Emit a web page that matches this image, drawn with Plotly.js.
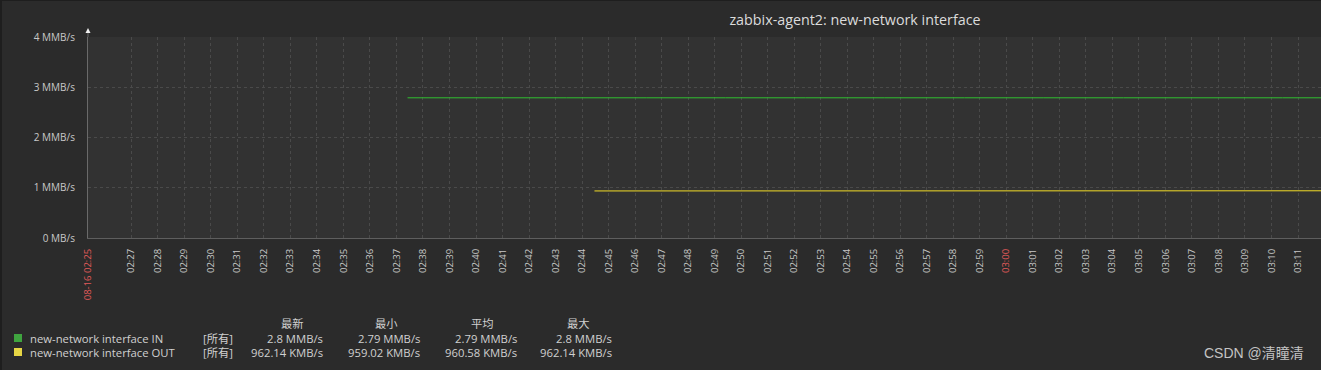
<!DOCTYPE html>
<html>
<head>
<meta charset="utf-8">
<script src="https://cdn.plot.ly/plotly-3.0.1.min.js"></script>
<style>
  html, body { margin: 0; padding: 0; background: #1e1e1e; width: 1321px; height: 370px; overflow: hidden; }
  #chart { position: absolute; left: 2px; top: 1px; width: 1319px; height: 369px; }
</style>
</head>
<body>
<div id="chart"></div>
<script>
// ---------------- data ----------------
const day = '2023-08-16 ';
const chartTitle = 'zabbix-agent2: new-network interface';
const rangeStart = '02:25:22';
const rangeEnd = '03:11:52';

// x-axis tick labels (first one is the start label)
const tickLabels = ['08-16 02:25', '02:27', '02:28', '02:29', '02:30', '02:31', '02:32', '02:33', '02:34', '02:35',
  '02:36', '02:37', '02:38', '02:39', '02:40', '02:41', '02:42', '02:43', '02:44', '02:45', '02:46',
  '02:47', '02:48', '02:49', '02:50', '02:51', '02:52', '02:53', '02:54', '02:55', '02:56', '02:57',
  '02:58', '02:59', '03:00', '03:01', '03:02', '03:03', '03:04', '03:05', '03:06', '03:07', '03:08',
  '03:09', '03:10', '03:11'];
const redTicks = ['08-16 02:25', '03:00'];

// y-axis ticks
const yTickVals = [0, 1, 2, 3, 4];
const yTickText = ['0 MB/s', '1 MMB/s', '2 MMB/s', '3 MMB/s', '4 MMB/s'];

// series: new-network interface IN (MB/s)
const inTimes = ['02:37:25', '02:40:25', '02:43:25', '02:46:25', '02:49:25', '02:52:25', '02:55:25',
  '02:58:25', '03:01:25', '03:04:25', '03:07:25', '03:10:25', '03:12:25'];
const inValues = [2.79, 2.79, 2.79, 2.79, 2.79, 2.79, 2.79, 2.79, 2.79, 2.79, 2.79, 2.79, 2.80];

// series: new-network interface OUT (KB/s)
const outTimes = ['02:44:28', '02:47:28', '02:50:28', '02:53:28', '02:56:28', '02:59:28', '03:02:28',
  '03:05:28', '03:08:28', '03:11:28', '03:12:28'];
const outValuesKB = [959.02, 960.10, 961.35, 959.80, 960.58, 961.90, 960.20, 959.75, 961.02, 962.14, 962.14];

// legend table
const seriesNames = ['new-network interface IN', 'new-network interface OUT'];
const seriesColors = ['#2fbf2f', '#f2dc28'];
const legendSwatch = ['#3fa43f', '#e6d645'];
const funcLabel = '[所有]';
const statHeaders = ['最新', '最小', '平均', '最大'];
const statsIN = ['2.8 MMB/s', '2.79 MMB/s', '2.79 MMB/s', '2.8 MMB/s'];
const statsOUT = ['962.14 KMB/s', '959.02 KMB/s', '960.58 KMB/s', '962.14 KMB/s'];
const watermark = 'CSDN @清瞳清';

// ---------------- layout helpers (page pixels -> paper) ----------------
const PX0 = 88, PX1 = 1321, PY0 = 37, PY1 = 238;
const px = x => (x - PX0) / (PX1 - PX0);
const py = y => (PY1 - y) / (PY1 - PY0);

const tickVals = tickLabels.map((l, i) => i === 0 ? day + rangeStart : day + l);
const tickText = tickLabels.map(l => redTicks.includes(l) ? '<span style="color:#e05a5a">' + l + '</span>' : l);

const FONT = '"Open Sans", "Noto Sans", "Noto Sans CJK SC", sans-serif';
const CJK = '"Open Sans", "Noto Sans CJK SC", sans-serif';
const LFS = 11.3;

const traces = [
  { x: inTimes.map(t => day + t), y: inValues, type: 'scatter', mode: 'lines',
    line: { color: seriesColors[0], width: 1, shape: 'hv' }, hoverinfo: 'skip' },
  { x: outTimes.map(t => day + t), y: outValuesKB.map(v => v / 1024), type: 'scatter', mode: 'lines',
    line: { color: seriesColors[1], width: 1, shape: 'linear' }, hoverinfo: 'skip' }
];

const annotations = [];
const shapes = [];

// legend header
const headerX = [292, 386, 482, 578];
const valueRightX = [325, 422, 519, 614];
statHeaders.forEach((h, i) => annotations.push({
  xref: 'paper', yref: 'paper', x: px(headerX[i]), y: py(323), xanchor: 'center', yanchor: 'middle',
  text: h, showarrow: false, font: { family: CJK, size: LFS, color: '#d0d0d0' }
}));
[statsIN, statsOUT].forEach((row, r) => {
  const yy = r === 0 ? 338 : 352;
  shapes.push({ type: 'rect', xref: 'paper', yref: 'paper', x0: px(14), x1: px(22), y0: py(yy + 4), y1: py(yy - 4),
    fillcolor: legendSwatch[r], line: { width: 0 } });
  annotations.push({ xref: 'paper', yref: 'paper', x: px(28), y: py(yy), xanchor: 'left', yanchor: 'middle',
    text: seriesNames[r], showarrow: false, font: { family: FONT, size: LFS, color: '#d0d0d0' } });
  annotations.push({ xref: 'paper', yref: 'paper', x: px(201), y: py(yy), xanchor: 'left', yanchor: 'middle',
    text: funcLabel, showarrow: false, font: { family: CJK, size: LFS, color: '#d0d0d0' } });
  row.forEach((v, i) => annotations.push({ xref: 'paper', yref: 'paper', x: px(valueRightX[i]), y: py(yy),
    xanchor: 'right', yanchor: 'middle', text: v, showarrow: false, font: { family: FONT, size: LFS, color: '#d0d0d0' } }));
});

// watermark
annotations.push({ xref: 'paper', yref: 'paper', x: px(1306), y: py(353), xanchor: 'right', yanchor: 'middle',
  text: watermark, showarrow: false, font: { family: '"Liberation Sans", "Noto Sans CJK SC", sans-serif', size: 14, color: '#c4c4c4' } });

// y-axis arrow
shapes.push({ type: 'path', xref: 'paper', yref: 'paper',
  path: 'M ' + px(85.5) + ' ' + py(33) + ' L ' + px(88) + ' ' + py(28) + ' L ' + px(90.5) + ' ' + py(33) + ' Z',
  fillcolor: '#f0f0f0', line: { width: 0 } });
shapes.push({ type: 'line', xref: 'paper', yref: 'paper', x0: 0, x1: 0, y0: py(33), y1: 1,
  line: { color: '#6a6a6a', width: 1 } });

const layout = {
  width: 1319, height: 369,
  margin: { l: 86, r: 0, t: 36, b: 132, pad: 0 },
  paper_bgcolor: '#2b2b2b',
  plot_bgcolor: '#323232',
  showlegend: false,
  hovermode: false,
  title: { text: chartTitle, xref: 'container', yref: 'container', x: 853 / 1319, y: 1 - 19 / 369,
    xanchor: 'center', yanchor: 'middle', font: { family: FONT, size: 14.3, color: '#dcdcdc' } },
  xaxis: {
    type: 'date', range: [day + rangeStart, day + rangeEnd],
    tickmode: 'array', tickvals: tickVals, ticktext: tickText, tickangle: -90,
    tickfont: { family: FONT, size: 9.5, color: '#c8c8c8' },
    ticks: '', ticklabelstandoff: 6,
    showgrid: true, gridcolor: '#4a4a4a', griddash: '3px,3px', gridwidth: 1,
    showline: true, linecolor: '#5e5e5e', linewidth: 1, zeroline: false, fixedrange: true
  },
  yaxis: {
    range: [0, 4], tickmode: 'array', tickvals: yTickVals, ticktext: yTickText,
    tickfont: { family: FONT, size: 10, color: '#c8c8c8' },
    ticks: '', ticklabelstandoff: 10,
    showgrid: true, gridcolor: '#4a4a4a', griddash: '3px,3px', gridwidth: 1,
    showline: true, linecolor: '#6a6a6a', linewidth: 1, zeroline: false, fixedrange: true
  },
  annotations: annotations,
  shapes: shapes
};

Plotly.newPlot('chart', traces, layout, { displayModeBar: false, staticPlot: true });
</script>
</body>
</html>
